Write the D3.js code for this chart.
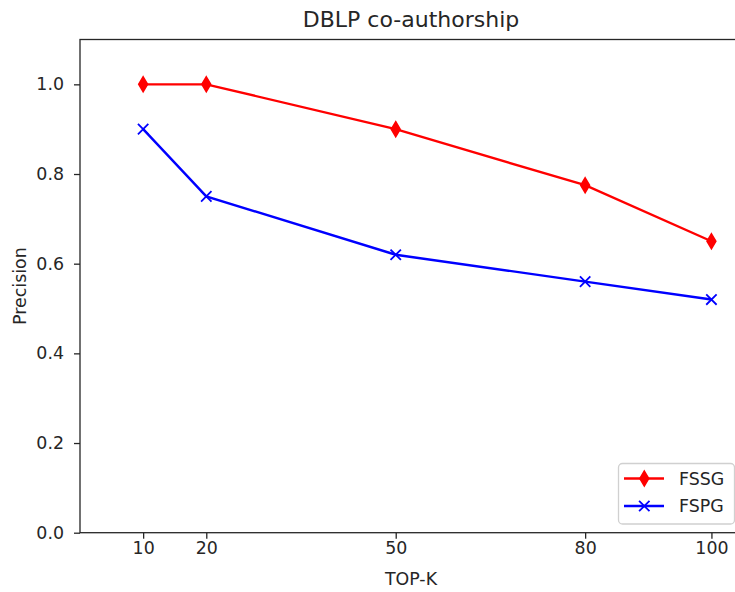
<!DOCTYPE html>
<html><head><meta charset="utf-8">
<script src="https://cdn.jsdelivr.net/npm/d3@7"></script>
<style>body{margin:0;background:#fff}svg{display:block;font-family:"DejaVu Sans",sans-serif}</style>
</head><body><svg id="c" width="735" height="592"></svg>
<script>
const topK = [10, 20, 50, 80, 100];
const fssg = [1.0, 1.0, 0.9, 0.775, 0.65];
const fspg = [0.9, 0.75, 0.62, 0.56, 0.52];
const yTicks = [0.0, 0.2, 0.4, 0.6, 0.8, 1.0];
const seriesNames = ["FSSG", "FSPG"];
const seriesColors = ["#ff0000", "#0000ff"];

const svg = d3.select("#c");
const L = 80, R = 743, T = 39.5, B = 532.7;
const x = d3.scaleLinear().domain([0, 105]).range([L, R]);
const y = d3.scaleLinear().domain([0, 1.1]).range([B, T]);

const fs = "17.4px";
const ink = "#262626";
const xAxis = svg.append("g").attr("transform", `translate(0,${B})`)
  .call(d3.axisBottom(x).tickValues(topK).tickSize(6).tickPadding(6));
const yAxis = svg.append("g").attr("transform", `translate(${L},0)`)
  .call(d3.axisLeft(y).tickValues(yTicks).tickFormat(d3.format(".1f")).tickSize(6).tickPadding(10));
[xAxis, yAxis].forEach(g => {
  g.selectAll("text").attr("font-size", fs).attr("fill", ink).attr("font-family", "DejaVu Sans");
  g.selectAll("line").attr("stroke", ink).attr("stroke-width", 1.3);
  g.select(".domain").remove();
});
xAxis.selectAll("text").attr("dy", "0.71em").attr("y", 9);
svg.append("rect").attr("x", L).attr("y", T).attr("width", R - L).attr("height", B - T)
  .attr("fill", "none").attr("stroke", ink).attr("stroke-width", 1.3);

const line = d3.line().x((d, i) => x(topK[i])).y(d => y(d));
[fssg, fspg].forEach((s, k) => {
  svg.append("path").datum(s).attr("d", line).attr("fill", "none")
    .attr("stroke", seriesColors[k]).attr("stroke-width", 2.4);
});
function diamond(g, cx, cy, color) {
  g.append("path").attr("d", `M${cx},${cy-7.4}L${cx+4.4},${cy}L${cx},${cy+7.4}L${cx-4.4},${cy}Z`)
    .attr("fill", color).attr("stroke", color).attr("stroke-width", 1.6).attr("stroke-linejoin", "miter");
}
function cross(g, cx, cy, color) {
  const r = 5.2;
  g.append("path").attr("d", `M${cx-r},${cy-r}L${cx+r},${cy+r}M${cx-r},${cy+r}L${cx+r},${cy-r}`)
    .attr("stroke", color).attr("stroke-width", 1.8).attr("fill", "none");
}
fssg.forEach((v, i) => diamond(svg, x(topK[i]), y(v), seriesColors[0]));
fspg.forEach((v, i) => cross(svg, x(topK[i]), y(v), seriesColors[1]));

svg.append("text").attr("x", 411).attr("y", 26.5).attr("text-anchor", "middle")
  .attr("font-size", "22px").attr("fill", ink).text("DBLP co-authorship");
svg.append("text").attr("x", 411).attr("y", 585).attr("text-anchor", "middle")
  .attr("font-size", fs).attr("fill", ink).text("TOP-K");
svg.append("text").attr("transform", `translate(25.5,${(T + B) / 2}) rotate(-90)`).attr("text-anchor", "middle")
  .attr("font-size", fs).attr("fill", ink).text("Precision");

const lg = svg.append("g");
lg.append("rect").attr("x", 618.5).attr("y", 463.5).attr("width", 116).attr("height", 60.5).attr("rx", 4)
  .attr("fill", "#fff").attr("fill-opacity", 0.8).attr("stroke", "#d0d0d0").attr("stroke-width", 1.3);
seriesNames.forEach((n, k) => {
  const yy = 478.5 + k * 27.5;
  lg.append("line").attr("x1", 624).attr("x2", 664).attr("y1", yy).attr("y2", yy)
    .attr("stroke", seriesColors[k]).attr("stroke-width", 2.4);
  if (k === 0) diamond(lg, 644.3, yy, seriesColors[k]); else cross(lg, 644.3, yy, seriesColors[k]);
  lg.append("text").attr("x", 679).attr("y", yy + 6.3).attr("font-size", fs).attr("fill", ink).text(n);
});
</script></body></html>
